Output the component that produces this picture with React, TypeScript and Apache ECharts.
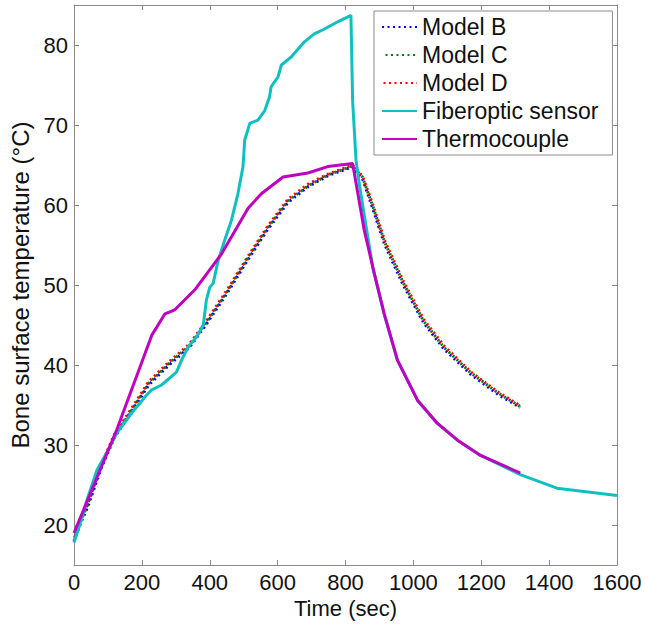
import React, { useEffect, useRef } from "react";
import * as echarts from "echarts";

const xTicks = [0, 200, 400, 600, 800, 1000, 1200, 1400, 1600];
const yTicks = [20, 30, 40, 50, 60, 70, 80];

const timeModel = [0, 20, 40, 80, 120, 170, 220, 280, 340, 390, 450, 510, 570, 630, 690, 750, 790, 820, 850, 880, 915, 970, 1030, 1090, 1170, 1250, 1315];
const modelB = [18.0, 20.3, 22.2, 27.1, 31.0, 34.2, 37.5, 40.0, 42.2, 45.1, 48.9, 53.0, 56.9, 60.3, 62.3, 63.7, 64.3, 64.8, 63.3, 59.6, 55.1, 50.0, 45.3, 42.0, 38.8, 36.3, 34.7];
const modelC = [18.1, 20.5, 22.5, 27.4, 31.2, 34.4, 37.7, 40.2, 42.4, 45.3, 49.1, 53.2, 57.1, 60.5, 62.4, 63.8, 64.4, 64.9, 63.5, 59.9, 55.4, 50.3, 45.5, 42.2, 39.0, 36.5, 34.8];
const modelD = [18.2, 20.6, 22.6, 27.5, 31.4, 34.6, 37.9, 40.4, 42.6, 45.5, 49.3, 53.4, 57.3, 60.7, 62.6, 63.9, 64.5, 65.0, 63.6, 60.1, 55.6, 50.5, 45.7, 42.4, 39.1, 36.6, 34.9];

const fiberTime = [0, 20, 38, 68, 100, 126, 170, 209, 229, 258, 302, 317, 337, 361, 381, 390, 400, 410, 425, 444, 464, 483, 498, 503, 518, 542, 562, 576, 581, 601, 611, 640, 679, 708, 738, 777, 816, 821, 831, 840, 860, 880, 914, 953, 1012, 1071, 1130, 1198, 1315, 1423, 1600];
const fiberTemp = [17.8, 20.4, 23.1, 26.9, 29.3, 31.5, 34.0, 36.0, 36.9, 37.5, 39.1, 40.6, 42.3, 43.5, 45.0, 48.1, 49.7, 50.2, 53.1, 55.6, 58.1, 61.4, 64.8, 68.1, 70.2, 70.6, 71.8, 73.5, 74.8, 76.0, 77.5, 78.5, 80.4, 81.4, 82.0, 82.9, 83.7, 73.0, 65.6, 62.8, 57.5, 52.3, 46.4, 40.6, 35.6, 32.7, 30.6, 28.7, 26.3, 24.6, 23.7];

const thermoTime = [0, 126, 229, 268, 297, 356, 435, 513, 552, 616, 689, 748, 821, 855, 885, 914, 953, 1012, 1071, 1130, 1198, 1315];
const thermoTemp = [19.0, 31.9, 43.7, 46.4, 46.9, 49.4, 53.9, 59.6, 61.4, 63.5, 64.0, 64.8, 65.2, 56.9, 51.4, 46.4, 40.6, 35.6, 32.7, 30.6, 28.7, 26.5];

const seriesNames = ["Model B", "Model C", "Model D", "Fiberoptic sensor", "Thermocouple"];

const FONT = "'Liberation Sans', Arial, Helvetica, sans-serif";
const AXIS_GRAY = "#8a8a8a";

const zip = (xs: number[], ys: number[]) => xs.map((x, i) => [x, ys[i]]);

export default function App() {
  const ref = useRef<HTMLDivElement>(null);
  useEffect(() => {
    const chart = echarts.init(ref.current!, null, { renderer: "svg" });
    const dotted = (color: string, data: number[][], name: string, offset: number) => ({
      type: "line",
      name,
      data,
      symbol: "none",
      xAxisIndex: 0,
      yAxisIndex: 0,
      lineStyle: { color, width: 3, type: [2, 3.5], dashOffset: offset, cap: "butt" },
      itemStyle: { color },
    });
    const solid = (color: string, data: number[][], name: string) => ({
      type: "line",
      name,
      data,
      symbol: "none",
      xAxisIndex: 0,
      yAxisIndex: 0,
      lineStyle: { color, width: 3 },
      itemStyle: { color },
    });
    const option = {
      animation: false,
      backgroundColor: "#ffffff",
      textStyle: { fontFamily: FONT },
      grid: { left: 72, right: 28, top: 5, bottom: 60, containLabel: false },
      legend: {
        data: seriesNames,
        orient: "vertical",
        left: 374,
        top: 11,
        itemWidth: 35,
        itemHeight: 14,
        itemGap: 4,
        padding: [4, 14, 4, 7],
        backgroundColor: "#ffffff",
        borderColor: AXIS_GRAY,
        borderWidth: 1,
        borderRadius: 0,
        itemStyle: { opacity: 0 },
        textStyle: { fontSize: 23, lineHeight: 24, color: "#111", fontFamily: FONT },
      },
      xAxis: [
        {
          type: "value",
          position: "bottom",
          min: xTicks[0],
          max: xTicks[xTicks.length - 1],
          interval: 200,
          name: "Time (sec)",
          nameLocation: "middle",
          nameGap: 25,
          nameTextStyle: { fontSize: 22, color: "#111", fontFamily: FONT },
          axisLine: { show: true, lineStyle: { color: AXIS_GRAY, width: 1 } },
          axisTick: { show: true, inside: true, length: 5, lineStyle: { color: AXIS_GRAY } },
          axisLabel: { fontSize: 22, color: "#111", margin: 6, fontFamily: FONT, formatter: (v: number) => String(v) },
          splitLine: { show: false },
        },
        {
          type: "value",
          position: "top",
          min: xTicks[0],
          max: xTicks[xTicks.length - 1],
          interval: 200,
          axisLine: { show: true, onZero: false, lineStyle: { color: AXIS_GRAY, width: 1 } },
          axisTick: { show: true, inside: true, length: 5, lineStyle: { color: AXIS_GRAY } },
          axisLabel: { show: false },
          splitLine: { show: false },
        },
      ],
      yAxis: [
        {
          type: "value",
          position: "left",
          min: 15,
          max: 85,
          splitNumber: 7,
          name: "Bone surface temperature (°C)",
          nameLocation: "middle",
          nameGap: 42,
          nameRotate: 90,
          nameTextStyle: { fontSize: 24, color: "#111", fontFamily: FONT },
          axisLine: { show: true, onZero: false, lineStyle: { color: AXIS_GRAY, width: 1 } },
          axisTick: { show: true, inside: true, length: 5, customValues: yTicks, lineStyle: { color: AXIS_GRAY } },
          axisLabel: { fontSize: 22, color: "#111", margin: 6, customValues: yTicks, fontFamily: FONT, formatter: (v: number) => String(v) },
          splitLine: { show: false },
        },
        {
          type: "value",
          position: "right",
          min: 15,
          max: 85,
          splitNumber: 7,
          axisLine: { show: true, onZero: false, lineStyle: { color: AXIS_GRAY, width: 1 } },
          axisTick: { show: true, inside: true, length: 5, customValues: yTicks, lineStyle: { color: AXIS_GRAY } },
          axisLabel: { show: false },
          splitLine: { show: false },
        },
      ],
      series: [
        dotted("#0000ff", zip(timeModel, modelB), seriesNames[0], 0),
        dotted("#008000", zip(timeModel, modelC), seriesNames[1], 1.8),
        dotted("#ff0000", zip(timeModel, modelD), seriesNames[2], 3.6),
        solid("#10c0c0", zip(fiberTime, fiberTemp), seriesNames[3]),
        solid("#c000c0", zip(thermoTime, thermoTemp), seriesNames[4]),
      ],
    };
    chart.setOption(option as any);
    return () => chart.dispose();
  }, []);
  return (
    <div
      ref={ref}
      style={{ position: "fixed", left: 0, top: 0, width: 645, height: 625, background: "#fff" }}
    />
  );
}
